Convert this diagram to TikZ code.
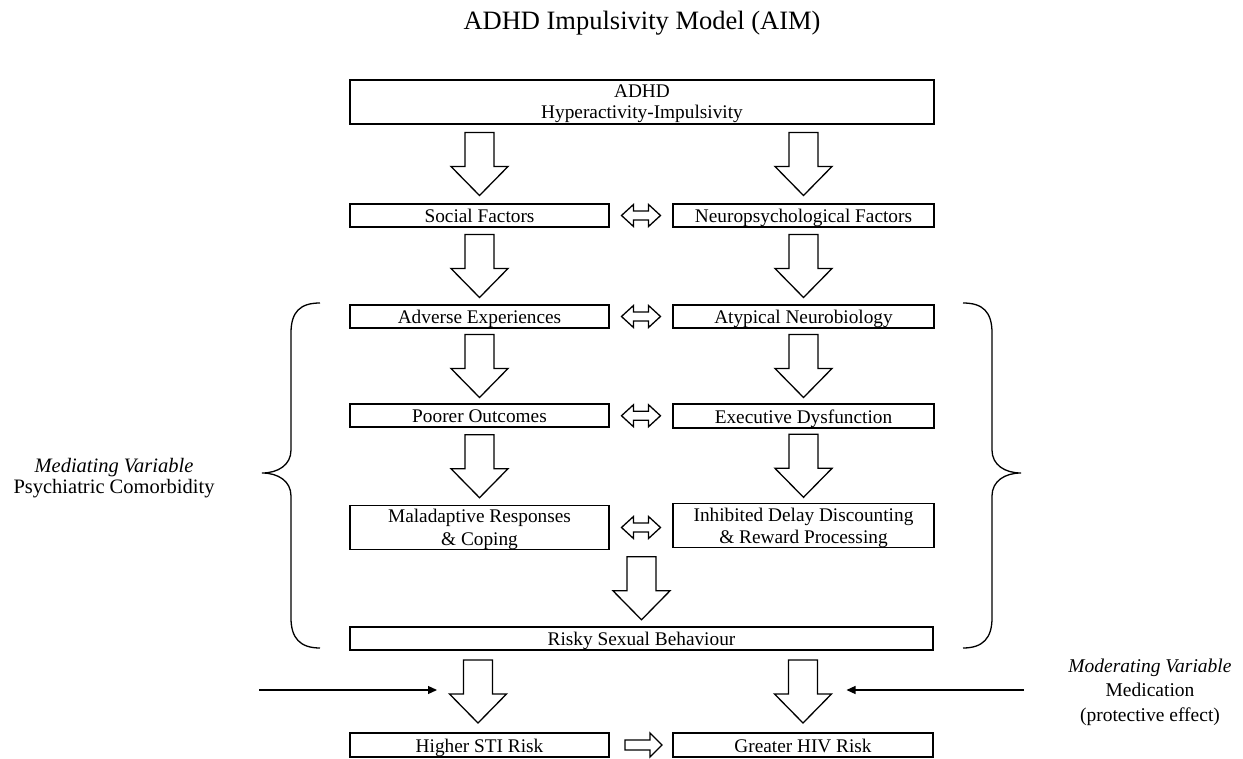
\documentclass[tikz,border=0pt]{standalone}
\usepackage{fontspec}
\setmainfont{Liberation Serif}
\usetikzlibrary{calc,arrows.meta}
\newcommand{\blkdown}[1]{\draw[blk] ($(#1)+(-14.5,-31.5)$) -- ++(0,34) -- ++(-14,0) -- ++(28.5,29) -- ++(28.5,-29) -- ++(-14,0) -- ++(0,-34) -- cycle;}
\newcommand{\blkdouble}[1]{\draw[blk] ($(#1)+(-19.5,0)$) -- ++(12,-11) -- ++(0,6.5) -- ++(15,0) -- ++(0,-6.5) -- ++(12,11) -- ++(-12,11) -- ++(0,-6.5) -- ++(-15,0) -- ++(0,6.5) -- cycle;}
\newcommand{\blkright}[1]{\draw[blk] ($(#1)+(-16,-5)$) -- ++(25,0) -- ++(0,-7) -- ++(12,12) -- ++(-12,12) -- ++(0,-7) -- ++(-25,0) -- cycle;}
\begin{document}
\begin{tikzpicture}[x=1pt,y=-1pt,
  box/.style={draw,line width=1.3pt,inner sep=0pt,outer sep=0pt,align=center,font=\fontsize{19.3}{22}\selectfont},
  one/.style={text height=14pt,text depth=0pt},
  blk/.style={draw,line width=1.3pt,fill=white,line join=miter},
  lbl/.style={align=center,inner sep=0pt},
  brace/.style={draw,line width=1.3pt},
  conn/.style={draw,line width=1.2pt,-{Triangle[length=9pt,width=8pt]}},
]
\useasboundingbox[fill=white] (0,0) rectangle (1243,759);

\node[font=\fontsize{26.5}{30}\selectfont] (title) at (642,23.5) {ADHD Impulsivity Model (AIM)};

\node[box,minimum width=584,minimum height=44,font=\fontsize{19.3}{21}\selectfont] (top) at (642,102) {\rule{0pt}{16.6pt}ADHD\\Hyperactivity-Impulsivity};
\node[box,one,minimum width=259,minimum height=23] (social) at (479.5,215.5) {Social Factors};
\node[box,one,minimum width=261,minimum height=23] (neuro) at (803.5,215.5) {Neuropsychological Factors};
\node[box,one,minimum width=259,minimum height=23] (adverse) at (479.5,316.5) {Adverse Experiences};
\node[box,one,minimum width=261,minimum height=23] (atyp) at (803.5,316.5) {Atypical Neurobiology};
\node[box,one,minimum width=259,minimum height=23] (poorer) at (479.5,415.5) {Poorer Outcomes};
\node[box,one,minimum width=261,minimum height=24] (exec) at (803.5,416) {Executive Dysfunction};
\node[box,minimum width=259,minimum height=41,font=\fontsize{19.3}{23}\selectfont] (mal) at (479.5,527.5) {\rule{0pt}{17pt}Maladaptive Responses\\\& Coping};
\node[box,minimum width=261,minimum height=41,font=\fontsize{19.3}{22}\selectfont] (inh) at (803.5,525.5) {\rule{0pt}{17.5pt}Inhibited Delay Discounting\\\& Reward Processing};
\node[box,one,minimum width=583,minimum height=23] (risky) at (641.5,638.5) {Risky Sexual Behaviour};
\node[box,one,minimum width=259,minimum height=24] (sti) at (479.5,745) {Higher STI Risk};
\node[box,one,minimum width=260,minimum height=24] (hiv) at (803,745) {Greater HIV Risk};

% vertical block arrows
\coordinate (a1) at ($(social.north)!0.5!(social.north |- top.south)$);
\coordinate (a2) at ($(neuro.north)!0.5!(neuro.north |- top.south)$);
\coordinate (a3) at ($(adverse.north)!0.5!(social.south)$);
\coordinate (a4) at ($(atyp.north)!0.5!(neuro.south)$);
\coordinate (a5) at ($(poorer.north)!0.5!(adverse.south)$);
\coordinate (a6) at ($(exec.north)!0.5!(atyp.south)$);
\coordinate (a7) at ($(mal.north)!0.5!(poorer.south)$);
\coordinate (a8) at ($(inh.north)!0.5!(exec.south)$);
\coordinate (a9) at ($(risky.north)!0.5!(risky.north |- mal.south)$);
\coordinate (a10) at ($(sti.north)!0.5!(sti.north |- risky.south)+(-1.5,0)$);
\coordinate (a11) at ($(hiv.north)!0.5!(hiv.north |- risky.south)$);
\foreach \c in {a1,a2,a3,a4,a5,a6,a7,a8,a9,a10,a11} {\blkdown{\c}}

% horizontal double arrows
\coordinate (d1) at ($(social.east)!0.5!(neuro.west)$);
\coordinate (d2) at ($(adverse.east)!0.5!(atyp.west)$);
\coordinate (d3) at ($(poorer.east)!0.5!(exec.west)$);
\coordinate (d4) at ($(mal.east)!0.5!(inh.west)+(0,1)$);
\foreach \c in {d1,d2,d3,d4} {\blkdouble{\c}}
\coordinate (r1) at ($(sti.east)!0.5!(hiv.west)$);
\blkright{r1}

% braces
\draw[brace] (320,303) .. controls (300,303) and (291,312) .. (291,333) -- (291,450) .. controls (291,465) and (278,473) .. (262,473) .. controls (278,473) and (291,481) .. (291,496) -- (291,618) .. controls (291,638) and (300,648) .. (320,648);
\draw[brace] (963,303) .. controls (983,303) and (992,312) .. (992,333) -- (992,450) .. controls (992,465) and (1005,473) .. (1021,473) .. controls (1005,473) and (992,481) .. (992,496) -- (992,618) .. controls (992,638) and (983,648) .. (963,648);

% labels
\node[lbl,font=\fontsize{20.5}{20.5}\selectfont] (medv) at (114,478) {\textit{Mediating Variable}\\Psychiatric Comorbidity};
\node[lbl,font=\fontsize{19.5}{24.5}\selectfont] (modv) at (1150,692) {\textit{Moderating Variable}\\Medication\\(protective effect)};

% moderator arrows
\coordinate (mL) at (259,690);
\coordinate (mLtip) at ($(a10)+(-41,-1.5)$);
\coordinate (mR) at (1024,690);
\coordinate (mRtip) at ($(a11)+(43.5,-1.5)$);
\draw[conn] (mL) -- (mLtip);
\draw[conn] (mR) -- (mRtip);
\end{tikzpicture}
\end{document}
